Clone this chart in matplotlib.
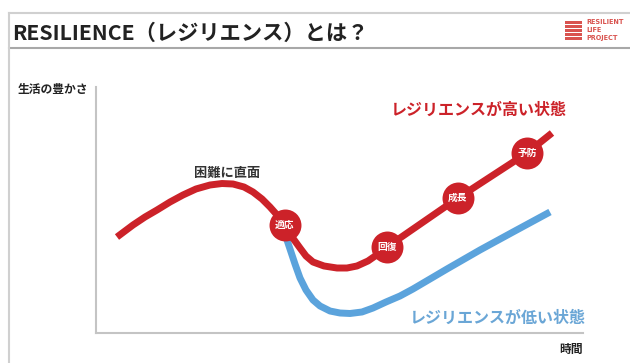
import numpy as np
import matplotlib.pyplot as plt
from matplotlib.lines import Line2D
from matplotlib.patches import Rectangle

plt.rcParams['font.family'] = ['Noto Sans CJK JP', 'DejaVu Sans']

# データ（画像から読み取り、x=時間 0-100, y=生活の豊かさ 0-100）
high_x = [4.31, 5.95, 7.60, 10.06, 12.53, 15.20, 17.86, 20.53, 23.41, 25.87, 28.13, 30.39,
          32.24, 34.09, 35.73, 37.37, 38.81, 40.25, 41.89, 43.12, 44.56, 46.82, 49.49, 51.54,
          53.59, 55.85, 57.91, 59.75, 74.33, 88.50, 93.63]
high_y = [39.02, 41.46, 43.90, 47.15, 50.00, 53.25, 56.10, 58.54, 60.16, 60.77, 60.57, 59.35,
          57.32, 54.47, 51.22, 47.56, 43.90, 39.02, 34.55, 31.30, 28.86, 27.24, 26.42, 26.42,
          27.24, 29.27, 32.11, 34.96, 54.88, 73.17, 81.30]
low_x = [39.22, 40.04, 40.86, 41.89, 43.12, 44.56, 46.00, 48.05, 50.10, 52.16, 54.62, 56.88,
         59.55, 62.42, 65.09, 68.58, 72.07, 78.85, 85.63, 93.22]
low_y = [37.80, 32.93, 28.05, 22.36, 17.48, 13.41, 10.98, 8.94, 8.13, 7.93, 8.54, 10.16,
         12.60, 15.04, 17.89, 21.95, 26.02, 33.74, 41.06, 49.19]

# 丸ラベル
step_labels = ['適応', '回復', '成長', '予防']
step_x = [38.8, 59.8, 74.3, 88.5]
step_y = [43.9, 35.0, 54.9, 73.2]

red = '#cc2229'
blue = '#5ba3dc'
W, H = 630, 363

fig = plt.figure(figsize=(6.3, 3.63), dpi=100)
fig.patch.set_facecolor('white')

# スライドの枠線
def hline(y, x0, x1, c, lw):
    fig.add_artist(Line2D([x0 / W, x1 / W], [1 - y / H, 1 - y / H], color=c, lw=lw))

hline(13, 9, 630, '#d0d0d0', 1.5)
hline(48, 9, 630, '#a8a8a8', 1.5)
fig.add_artist(Line2D([9 / W, 9 / W], [0, 1 - 13 / H], color='#d0d0d0', lw=1.5))

# タイトル
fig.text(12 / W, 1 - 33 / H, 'RESILIENCE（レジリエンス）とは？', fontsize=15.3,
         fontweight='bold', color='#222222', va='center', ha='left')

# ロゴ
for i in range(5):
    yy = 21 + i * 4
    fig.add_artist(Rectangle((565 / W, 1 - (yy + 2.5) / H), 17 / W, 2.5 / H,
                             color='#d9534f', lw=0))
for i, t in enumerate(['RESILIENT', 'LIFE', 'PROJECT']):
    fig.text(586 / W, 1 - (22 + i * 8) / H, t, fontsize=4.7, fontweight='bold',
             color='#d9534f', va='center', ha='left', family='DejaVu Sans')

# 軸
ax = fig.add_axes([96 / W, 30 / H, 487 / W, 246 / H])
ax.set_xlim(0, 100)
ax.set_ylim(0, 100)
for s in ['top', 'right']:
    ax.spines[s].set_visible(False)
for s in ['left', 'bottom']:
    ax.spines[s].set_color('#c4c4c4')
    ax.spines[s].set_linewidth(1.5)
ax.set_xticks([])
ax.set_yticks([])
ax.patch.set_alpha(0)

ax.plot(low_x, low_y, color=blue, lw=5, solid_capstyle='butt', solid_joinstyle='round', clip_on=False)
ax.plot(high_x, high_y, color=red, lw=5, solid_capstyle='butt', solid_joinstyle='round', clip_on=False)
ax.plot(step_x, step_y, 'o', color=red, markersize=23, markeredgewidth=0, clip_on=False)
for lab, x, y in zip(step_labels, step_x, step_y):
    ax.text(x, y, lab, color='white', fontsize=7, fontweight='bold', ha='center', va='center')

ax.text(27, 65, '困難に直面', fontsize=9.5, fontweight='bold', color='#333333', ha='center', va='center')
ax.text(78.6, 90.7, 'レジリエンスが高い状態', fontsize=11.5, fontweight='bold', color=red, ha='center', va='center')
ax.text(100.5, 6.1, 'レジリエンスが低い状態', fontsize=11.5, fontweight='bold', color='#6aa6d6', ha='right', va='center')

fig.text(18 / W, 1 - 89 / H, '生活の豊かさ', fontsize=8.5, fontweight='bold', color='#222222', va='center')
fig.text(583 / W, 1 - 349 / H, '時間', fontsize=8.5, fontweight='bold', color='#222222', va='center', ha='right')

plt.savefig('out.png', dpi=100)
